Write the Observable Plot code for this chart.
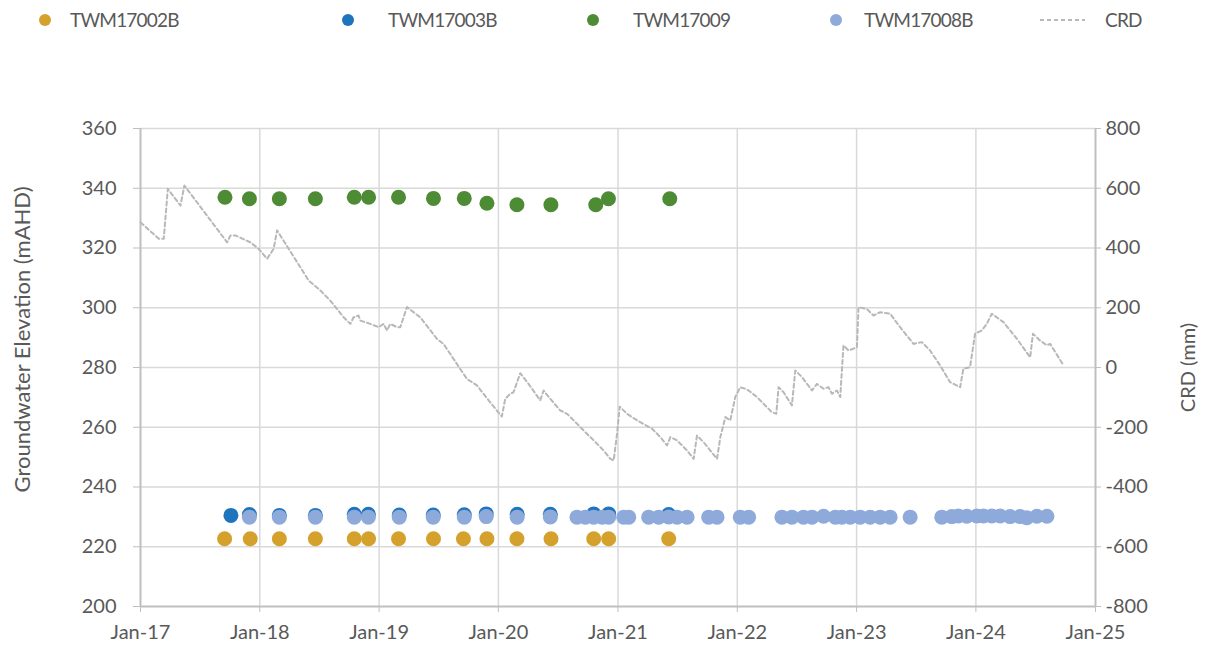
<!DOCTYPE html>
<html>
<head>
<meta charset="utf-8">
<script src="https://cdn.jsdelivr.net/npm/d3@7"></script>
<script src="https://cdn.jsdelivr.net/npm/@observablehq/plot@0.6"></script>
<style>
  html, body { margin: 0; padding: 0; background: #fff; }
  #wrap { width: 1205px; font-family: Lato, "Liberation Sans", sans-serif; }
  #legend { position: relative; width: 1205px; height: 40px; color: #595959; font-size: 19px; letter-spacing: -0.8px; }
  #legend .dot { position: absolute; top: 14px; width: 12px; height: 12px; border-radius: 50%; }
  #legend .lab { position: absolute; top: 9px; line-height: 22px; white-space: nowrap; }
  #legend svg { position: absolute; top: 0; }
</style>
</head>
<body>
<div id="wrap">
  <div id="legend"></div>
  <div id="chart"></div>
</div>
<script>
// ---------- data ----------
const seriesNames = ["TWM17002B", "TWM17003B", "TWM17009", "TWM17008B", "CRD"];
const seriesColors = ["#d4a12c", "#1f74be", "#4e8b35", "#8eaadb", "#b8b8b8"];

// sample dates as decimal years
const t17002B = [2017.705,2017.920,2018.164,2018.466,2018.792,2018.912,2019.163,2019.456,2019.707,2019.904,2020.155,2020.440,2020.797,2020.922,2021.425];
const v17002B = [222.7,222.7,222.7,222.7,222.7,222.7,222.7,222.7,222.7,222.7,222.7,222.7,222.7,222.7,222.7];

const t17003B = [2017.758,2017.913,2018.164,2018.466,2018.792,2018.910,2019.169,2019.454,2019.714,2019.898,2020.157,2020.434,2020.797,2020.922,2021.425];
const v17003B = [230.5,230.8,230.5,230.5,230.9,230.9,230.6,230.6,230.7,231.0,230.9,230.9,231.0,231.0,230.8];

const t17009 = [2017.708,2017.913,2018.164,2018.466,2018.792,2018.912,2019.163,2019.456,2019.714,2019.904,2020.155,2020.439,2020.814,2020.920,2021.434];
const v17009 = [337.0,336.5,336.5,336.5,337.0,337.0,337.0,336.6,336.6,335.0,334.5,334.5,334.5,336.5,336.5];

const t17008B = [2017.913,2018.164,2018.466,2018.792,2018.910,2019.169,2019.454,2019.714,2019.898,2020.157,2020.434,2020.657,2020.727,2020.797,2020.867,2020.922,2021.048,2021.090,2021.257,2021.341,2021.425,2021.495,2021.579,2021.760,2021.830,2022.025,2022.095,2022.374,2022.458,2022.555,2022.626,2022.723,2022.822,2022.877,2022.947,2023.030,2023.114,2023.198,2023.281,2023.449,2023.714,2023.798,2023.853,2023.924,2024.008,2024.063,2024.133,2024.203,2024.286,2024.370,2024.426,2024.510,2024.594];
const v17008B = [229.9,229.9,229.9,229.9,229.9,229.9,229.9,229.9,230.1,229.9,230.0,229.9,229.9,229.9,229.9,229.9,229.9,229.9,229.9,229.9,230.0,229.9,229.9,229.9,229.9,229.9,229.9,229.9,229.9,229.9,229.9,230.2,229.9,229.9,229.9,229.9,229.9,229.9,229.9,229.9,229.9,230.1,230.3,230.2,230.3,230.3,230.3,230.3,230.1,230.1,229.7,230.2,230.2];

const tCRD = [2017.000,2017.153,2017.195,2017.229,2017.335,2017.368,2017.726,2017.754,2017.796,2017.921,2017.991,2018.061,2018.116,2018.145,2018.410,2018.508,2018.591,2018.703,2018.759,2018.786,2018.828,2018.843,2018.926,2018.996,2019.038,2019.066,2019.094,2019.150,2019.178,2019.205,2019.234,2019.345,2019.485,2019.540,2019.652,2019.736,2019.820,2019.875,2019.987,2020.029,2020.057,2020.099,2020.126,2020.183,2020.252,2020.350,2020.378,2020.434,2020.518,2020.574,2020.657,2020.713,2020.797,2020.880,2020.936,2020.964,2020.992,2021.014,2021.076,2021.160,2021.286,2021.355,2021.411,2021.439,2021.495,2021.579,2021.634,2021.662,2021.718,2021.774,2021.830,2021.858,2021.900,2021.941,2021.983,2022.025,2022.067,2022.095,2022.165,2022.291,2022.327,2022.346,2022.388,2022.458,2022.486,2022.542,2022.626,2022.668,2022.723,2022.765,2022.793,2022.835,2022.863,2022.890,2022.932,2022.974,2023.003,2023.016,2023.086,2023.142,2023.198,2023.281,2023.365,2023.477,2023.547,2023.616,2023.700,2023.784,2023.868,2023.895,2023.951,2023.993,2024.049,2024.091,2024.133,2024.230,2024.343,2024.454,2024.477,2024.538,2024.594,2024.621,2024.733];
const vCRD = [486,431,431,598,542,609,419,442,442,419,397,364,397,459,291,258,224,168,146,168,174,157,146,135,146,124,146,135,135,168,202,168,96,79,12,-38,-60,-88,-144,-164,-105,-88,-83,-19,-55,-110,-77,-105,-144,-155,-188,-211,-244,-278,-306,-311,-222,-131,-155,-177,-205,-233,-261,-233,-244,-278,-306,-228,-250,-278,-306,-233,-166,-177,-99,-66,-71,-77,-99,-150,-155,-66,-83,-127,-10,-32,-77,-55,-71,-66,-88,-77,-99,74,57,63,68,202,196,174,185,180,135,79,85,57,7,-49,-66,-4,1,113,124,146,180,152,96,34,113,90,74,79,7];

const yTicks = [200,220,240,260,280,300,320,340,360];
const crdTicks = [-800,-600,-400,-200,0,200,400,600,800];
const xTickYears = [2017,2018,2019,2020,2021,2022,2023,2024,2025];

// ---------- helpers ----------
function dy(y) {
  const yr = Math.floor(y);
  const s = Date.UTC(yr, 0, 1), e = Date.UTC(yr + 1, 0, 1);
  return new Date(s + (y - yr) * (e - s));
}
const toRows = (ts, vs) => ts.map((t, i) => ({date: dy(t), v: vs[i]}));
// CRD shown on the secondary axis: map -800..800 onto 200..360
const crdToLeft = c => 280 + c / 10;
const leftToCrd = d => Math.round((d - 280) * 10);

const s1 = toRows(t17002B, v17002B);
const s2 = toRows(t17003B, v17003B);
const s3 = toRows(t17009, v17009);
const s4 = toRows(t17008B, v17008B);
const crd = toRows(tCRD, vCRD);
const xTicks = xTickYears.map(y => new Date(Date.UTC(y, 0, 1)));

// ---------- legend ----------
const legend = document.getElementById("legend");
const dotX = [45, 348, 593, 836];
const labX = [70, 388, 633, 864];
for (let i = 0; i < 4; i++) {
  const d = document.createElement("div");
  d.className = "dot";
  d.style.left = (dotX[i] - 6) + "px";
  d.style.background = seriesColors[i];
  legend.appendChild(d);
  const l = document.createElement("div");
  l.className = "lab";
  l.style.left = labX[i] + "px";
  l.textContent = seriesNames[i];
  legend.appendChild(l);
}
legend.insertAdjacentHTML("beforeend",
  `<svg width="60" height="40" style="left:1035px"><line x1="5" x2="50" y1="20" y2="20" stroke="${seriesColors[4]}" stroke-width="2" stroke-dasharray="4,3"/></svg>`);
{
  const l = document.createElement("div");
  l.className = "lab";
  l.style.left = "1105px";
  l.textContent = seriesNames[4];
  legend.appendChild(l);
}

// ---------- chart ----------
const R = 7.5;
const chart = Plot.plot({
  width: 1205,
  height: 613,
  marginLeft: 140,
  marginRight: 110,
  marginTop: 88,
  marginBottom: 47,
  style: {fontFamily: "Lato, 'Liberation Sans', sans-serif", fontSize: "20px", color: "#595959", background: "#fff"},
  x: {type: "utc", domain: [xTicks[0], xTicks[xTicks.length - 1]]},
  y: {domain: [200, 360]},
  marks: [
    Plot.gridY(yTicks.slice(1), {stroke: "#d9d9d9", strokeOpacity: 1, strokeWidth: 1.5}),
    Plot.gridX(xTicks.slice(1, -1), {stroke: "#d9d9d9", strokeOpacity: 1, strokeWidth: 1.5}),
    Plot.ruleY([200], {stroke: "#bfbfbf", strokeWidth: 2}),
    Plot.ruleX([xTicks[0], xTicks[xTicks.length - 1]], {stroke: "#bfbfbf", strokeWidth: 2}),
    Plot.axisY(yTicks, {anchor: "left", tickSize: 7, tickPadding: 17, stroke: "#bfbfbf", fill: "#595959", label: null, tickFormat: d => String(d)}),
    Plot.axisY(yTicks, {anchor: "right", tickSize: 5, tickPadding: 5, stroke: "#bfbfbf", fill: "#595959", label: null, tickFormat: d => String(leftToCrd(d))}),
    Plot.axisX(xTicks, {anchor: "bottom", tickSize: 6, tickPadding: 12, stroke: "#bfbfbf", fill: "#595959", label: null, tickFormat: d3.utcFormat("%b-%y")}),
    Plot.text(["Groundwater Elevation (mAHD)"], {frameAnchor: "left", dx: -118, dy: -28, rotate: -90, textAnchor: "middle", fill: "#595959", fontSize: 22}),
    Plot.text(["CRD (mm)"], {frameAnchor: "right", dx: 93, rotate: -90, textAnchor: "middle", fill: "#595959", fontSize: 20}),
    Plot.dot(s1, {x: "date", y: "v", r: R, fill: seriesColors[0], stroke: null}),
    Plot.dot(s2, {x: "date", y: "v", r: R, fill: seriesColors[1], stroke: null}),
    Plot.dot(s3, {x: "date", y: "v", r: R, fill: seriesColors[2], stroke: null}),
    Plot.dot(s4, {x: "date", y: "v", r: R, fill: seriesColors[3], stroke: null}),
    Plot.line(crd, {x: "date", y: d => crdToLeft(d.v), stroke: seriesColors[4], strokeWidth: 2, strokeDasharray: "4,3"})
  ]
});
document.getElementById("chart").appendChild(chart);
</script>
</body>
</html>
